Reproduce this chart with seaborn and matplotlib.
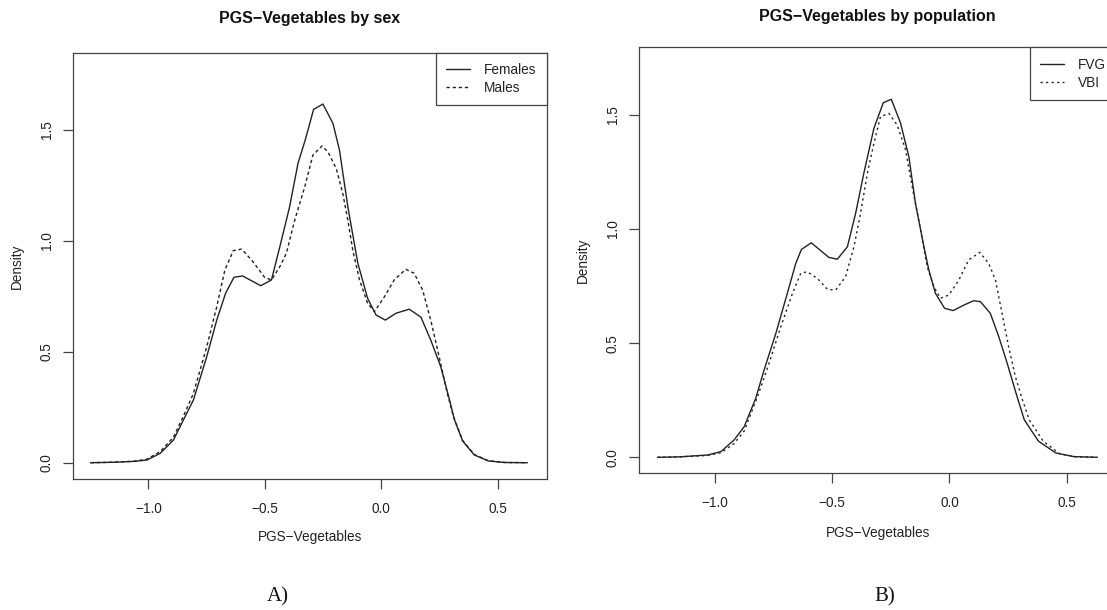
import numpy as np
import pandas as pd
import matplotlib
matplotlib.use("Agg")
import matplotlib.pyplot as plt
import seaborn as sns

sns.set_style("white")
plt.rcParams["font.family"] = ["Liberation Sans", "DejaVu Sans"]
plt.rcParams["lines.scale_dashes"] = False

# ---------------- data ----------------
females_x = [-1.248, -1.15, -1.06, -1.006, -0.949, -0.892, -0.849, -0.806, -0.749, -0.706,
             -0.668, -0.632, -0.595, -0.517, -0.471, -0.435, -0.393, -0.357, -0.326, -0.290,
             -0.250, -0.207, -0.179, -0.143, -0.100, -0.058, -0.022, 0.018, 0.064, 0.121,
             0.171, 0.213, 0.256, 0.292, 0.315, 0.35, 0.40, 0.46, 0.53, 0.628]
females_y = [0.0, 0.002, 0.006, 0.012, 0.042, 0.102, 0.193, 0.283, 0.478, 0.643,
             0.764, 0.836, 0.842, 0.798, 0.824, 0.974, 1.154, 1.350, 1.455, 1.593,
             1.617, 1.530, 1.410, 1.154, 0.899, 0.741, 0.666, 0.643, 0.674, 0.692,
             0.656, 0.553, 0.433, 0.290, 0.193, 0.098, 0.035, 0.008, 0.001, 0.0]

males_x = [-1.248, -1.15, -1.06, -1.006, -0.949, -0.892, -0.849, -0.806, -0.749, -0.706,
           -0.671, -0.635, -0.599, -0.550, -0.50, -0.471, -0.435, -0.407, -0.371, -0.328,
           -0.293, -0.254, -0.229, -0.193, -0.165, -0.143, -0.122, -0.093, -0.058, -0.029,
           0.014, 0.056, 0.106, 0.142, 0.178, 0.213, 0.249, 0.284, 0.31, 0.35,
           0.40, 0.46, 0.53, 0.628]
males_y = [0.0, 0.002, 0.007, 0.016, 0.05, 0.115, 0.21, 0.313, 0.523, 0.703,
           0.869, 0.956, 0.963, 0.906, 0.835, 0.824, 0.884, 0.944, 1.094, 1.244,
           1.387, 1.428, 1.402, 1.327, 1.215, 1.094, 0.959, 0.824, 0.719, 0.681,
           0.748, 0.824, 0.872, 0.854, 0.779, 0.643, 0.478, 0.313, 0.21, 0.10,
           0.037, 0.009, 0.001, 0.0]

fvg_x = [-1.244, -1.15, -1.031, -0.974, -0.918, -0.875, -0.826, -0.790, -0.740, -0.691,
         -0.655, -0.631, -0.589, -0.514, -0.478, -0.435, -0.400, -0.365, -0.322, -0.282,
         -0.248, -0.209, -0.173, -0.145, -0.109, -0.088, -0.060, -0.021, 0.016, 0.061,
         0.103, 0.132, 0.174, 0.210, 0.246, 0.288, 0.319, 0.379, 0.453, 0.53, 0.63]
fvg_y = [0.0, 0.002, 0.01, 0.025, 0.076, 0.134, 0.258, 0.383, 0.543, 0.719,
         0.850, 0.911, 0.940, 0.876, 0.868, 0.923, 1.069, 1.245, 1.442, 1.554,
         1.569, 1.466, 1.317, 1.113, 0.923, 0.821, 0.719, 0.653, 0.643, 0.667,
         0.686, 0.682, 0.631, 0.529, 0.412, 0.266, 0.164, 0.071, 0.019, 0.003, 0.0]

vbi_x = [-1.244, -1.15, -1.031, -0.974, -0.918, -0.875, -0.818, -0.769, -0.719, -0.669,
         -0.634, -0.606, -0.563, -0.520, -0.485, -0.443, -0.407, -0.379, -0.350, -0.322,
         -0.294, -0.258, -0.223, -0.187, -0.159, -0.123, -0.095, -0.067, -0.038, -0.003,
         0.040, 0.082, 0.129, 0.167, 0.196, 0.224, 0.252, 0.281, 0.309, 0.34,
         0.40, 0.47, 0.54, 0.63]
vbi_y = [0.0, 0.002, 0.008, 0.02, 0.06, 0.115, 0.266, 0.412, 0.572, 0.719,
         0.806, 0.813, 0.784, 0.736, 0.733, 0.791, 0.923, 1.069, 1.245, 1.376,
         1.493, 1.507, 1.456, 1.347, 1.186, 0.996, 0.835, 0.748, 0.697, 0.711,
         0.777, 0.865, 0.898, 0.850, 0.777, 0.631, 0.485, 0.353, 0.258, 0.164,
         0.07, 0.015, 0.002, 0.0]

xticks = [-1.0, -0.5, 0.0, 0.5]
xticklabels = ["\u22121.0", "\u22120.5", "0.0", "0.5"]
yticks = [0.0, 0.5, 1.0, 1.5]
yticklabels = ["0.0", "0.5", "1.0", "1.5"]

titles = ["PGS\u2212Vegetables by sex", "PGS\u2212Vegetables by population"]
xlabel = "PGS\u2212Vegetables"
ylabel = "Density"
panel_tags = ["A)", "B)"]

# ---------------- figure ----------------
W, H = 1107, 610
fig = plt.figure(figsize=(W / 100, H / 100), dpi=100)
axA = fig.add_axes([73.3 / W, 1 - 479.3 / H, (546.7 - 73.3) / W, (479.3 - 52.7) / H])
axB = fig.add_axes([639.3 / W, 1 - 473.3 / H, 477.0 / W, (473.3 - 47.3) / H])

LINE = "#222222"
AX = "#444444"


def draw(ax, x, y, label, dashes):
    df = pd.DataFrame({"x": x, "y": y})
    sns.lineplot(data=df, x="x", y="y", ax=ax, sort=False, estimator=None,
                 color=LINE, linewidth=1.0, label=label,
                 linestyle="-" if dashes is None else (0, dashes))


draw(axA, females_x, females_y, "Females", None)
draw(axA, males_x, males_y, "Males", (2.4, 2.0))
draw(axB, fvg_x, fvg_y, "FVG", None)
draw(axB, vbi_x, vbi_y, "VBI", (1.6, 2.4))


def style(ax, ylim, title, title_y, xlab_y, ylab_x):
    ax.set_xlim(-1.322, 0.711)
    ax.set_ylim(*ylim)
    ax.set_xticks(xticks)
    ax.set_xticklabels(xticklabels)
    ax.set_yticks(yticks)
    ax.set_yticklabels(yticklabels)
    for s in ax.spines.values():
        s.set_visible(True)
        s.set_color(AX)
        s.set_linewidth(0.9)
    ax.tick_params(axis="both", which="major", direction="out", length=7, width=0.9,
                   color=AX, labelsize=9.8, labelcolor="#222222", bottom=True, left=True)
    ax.tick_params(axis="x", pad=9)
    ax.tick_params(axis="y", pad=7, labelrotation=90)
    for lab in ax.get_yticklabels():
        lab.set_verticalalignment("center")
    ax.set_title(title, fontsize=11.5, fontweight="bold", y=title_y, va="center",
                 pad=0, color="#111111")
    ax.set_xlabel(xlabel, fontsize=9.8, va="center", color="#222222")
    ax.xaxis.set_label_coords(0.5, xlab_y)
    ax.set_ylabel(ylabel, fontsize=9.8, va="center", color="#222222")
    ax.yaxis.set_label_coords(ylab_x, 0.5)
    ax.grid(False)
    leg = ax.legend(loc="upper right", bbox_to_anchor=(1, 1), borderaxespad=0,
                    frameon=True, fancybox=False, edgecolor=AX, framealpha=1,
                    fontsize=9.8, handlelength=1.8, handletextpad=1.0,
                    borderpad=0.75, labelspacing=0.3)
    leg.get_frame().set_linewidth(0.9)
    for t in leg.get_texts():
        t.set_color("#222222")


style(axA, (-0.0748, 1.8485), titles[0], (479.3 - 18) / 426.6,
      (479.3 - 537) / 426.6, (17 - 73.3) / 473.4)
style(axB, (-0.0701, 1.7967), titles[1], (473.3 - 16) / 426.0,
      (473.3 - 532.7) / 426.0, (583 - 639.3) / 477.0)

fig.text(278 / W, 1 - 597 / H, panel_tags[0], family=["Liberation Serif", "DejaVu Serif"],
         fontsize=15, ha="center", va="center", color="#111111")
fig.text(885 / W, 1 - 597 / H, panel_tags[1], family=["Liberation Serif", "DejaVu Serif"],
         fontsize=15, ha="center", va="center", color="#111111")

fig.savefig("out.png", dpi=100)
